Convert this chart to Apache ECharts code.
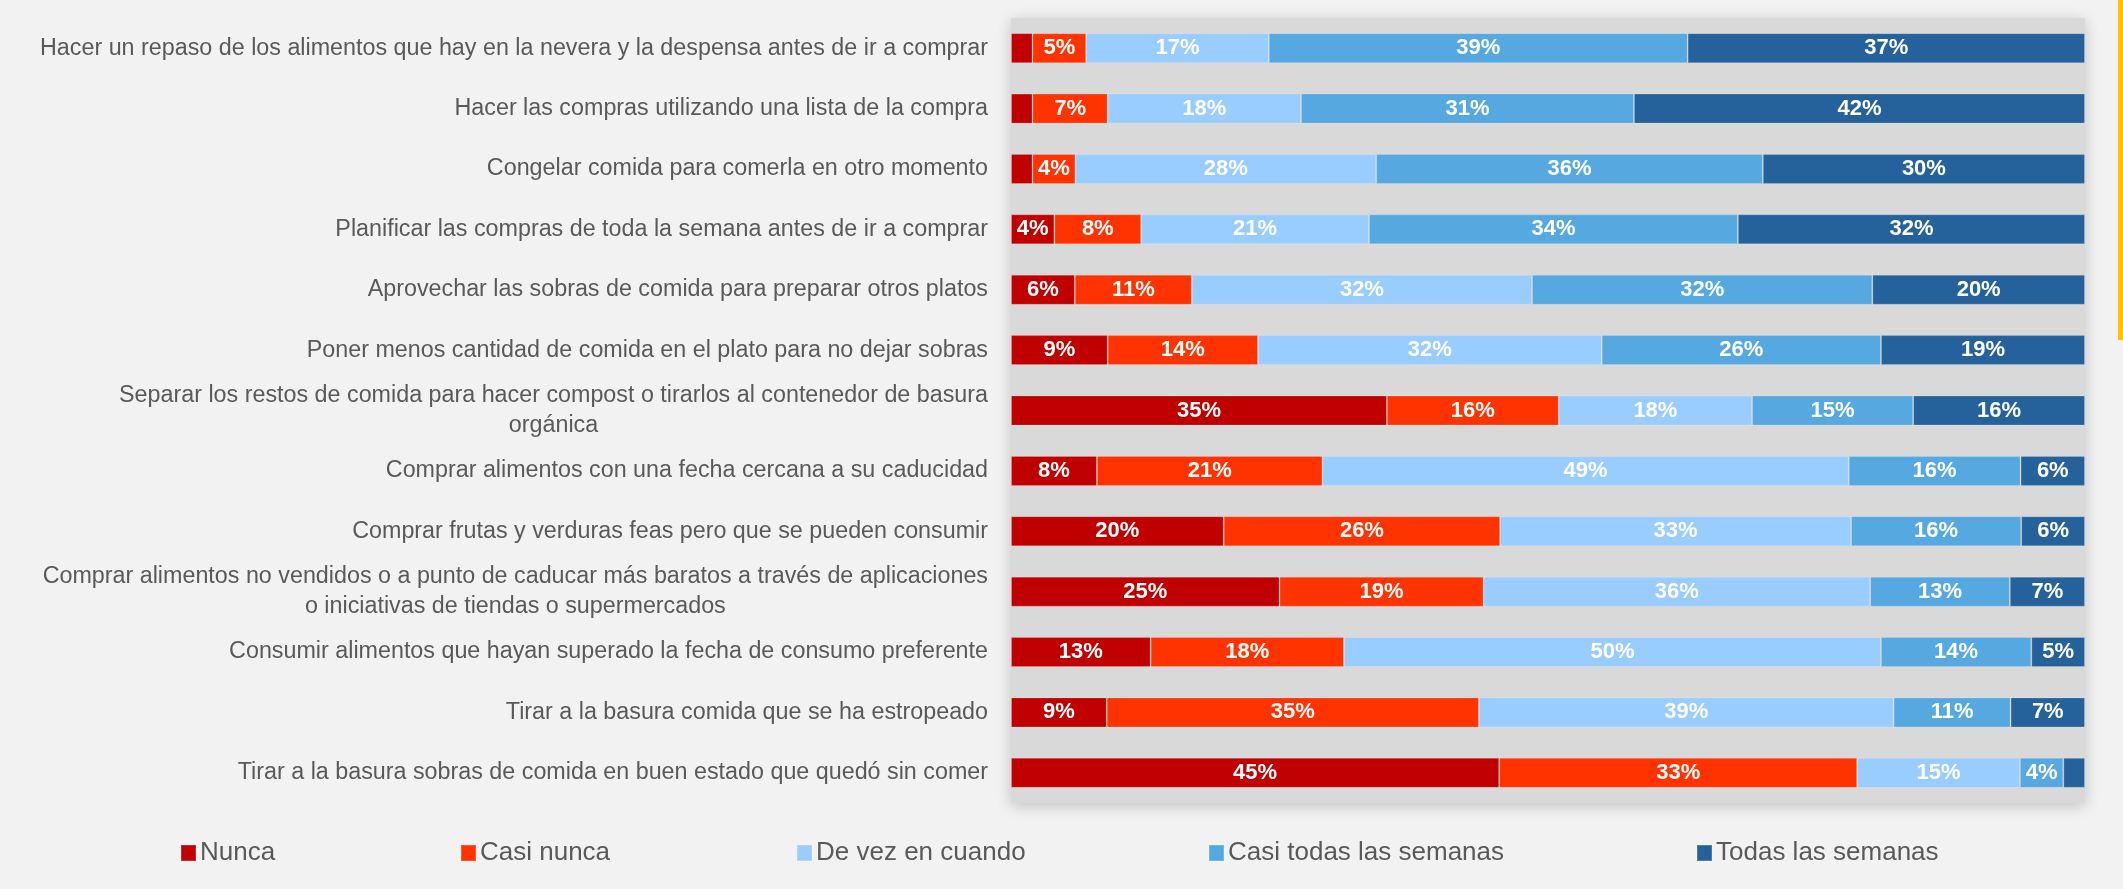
<!DOCTYPE html>
<html>
<head>
<meta charset="utf-8">
<script src="https://cdn.jsdelivr.net/npm/echarts@6/dist/echarts.min.js"></script>
<style>
html,body{margin:0;padding:0;background:#f2f2f2;}
#chart{width:2123px;height:889px;}
</style>
</head>
<body>
<div id="chart"></div>
<script>
// ---- data ----
const categories = [
  "Hacer un repaso de los alimentos que hay en la nevera y la despensa antes de ir a comprar",
  "Hacer las compras utilizando una lista de la compra",
  "Congelar comida para comerla en otro momento",
  "Planificar las compras de toda la semana antes de ir a comprar",
  "Aprovechar las sobras de comida para preparar otros platos",
  "Poner menos cantidad de comida en el plato para no dejar sobras",
  "Separar los restos de comida para hacer compost o tirarlos al contenedor de basura\norgánica",
  "Comprar alimentos con una fecha cercana a su caducidad",
  "Comprar frutas y verduras feas pero que se pueden consumir",
  "Comprar alimentos no vendidos o a punto de caducar más baratos a través de aplicaciones\no iniciativas de tiendas o supermercados",
  "Consumir alimentos que hayan superado la fecha de consumo preferente",
  "Tirar a la basura comida que se ha estropeado",
  "Tirar a la basura sobras de comida en buen estado que quedó sin comer"
];
const seriesNames = ["Nunca", "Casi nunca", "De vez en cuando", "Casi todas las semanas", "Todas las semanas"];
const nunca     = [2, 2, 2, 4, 6, 9, 35, 8, 20, 25, 13, 9, 45];
const casiNunca = [5, 7, 4, 8, 11, 14, 16, 21, 26, 19, 18, 35, 33];
const deVez     = [17, 18, 28, 21, 32, 32, 18, 49, 33, 36, 50, 39, 15];
const casiTodas = [39, 31, 36, 34, 32, 26, 15, 16, 16, 13, 14, 11, 4];
const todas     = [37, 42, 30, 32, 20, 19, 16, 6, 6, 7, 5, 7, 2];

// ---- styling ----
const colors = ["#c00000", "#ff3300", "#99ccff", "#55a8e0", "#25629b"];
const legendLeft = [180, 460, 796, 1208, 1696];
const FONT = "'Liberation Sans', Arial, sans-serif";

const allSeries = [nunca, casiNunca, deVez, casiTodas, todas];
const totals = categories.map((_, i) => allSeries.reduce((s, arr) => s + arr[i], 0));

const chart = echarts.init(document.getElementById('chart'), null, {renderer: 'canvas'});
const option = {
  backgroundColor: '#f2f2f2',
  animation: false,
  grid: {
    left: 1011, right: 38, top: 18, bottom: 86,
    show: true, backgroundColor: '#d9d9d9', borderWidth: 0,
    shadowBlur: 14, shadowColor: 'rgba(0,0,0,0.2)', shadowOffsetY: 3
  },
  xAxis: {
    type: 'value', min: 0, max: 100,
    show: false
  },
  yAxis: {
    type: 'category', inverse: true, data: categories,
    axisLine: {show: false}, axisTick: {show: false}, splitLine: {show: false},
    axisLabel: {
      margin: 23, align: 'right',
      formatter: v => v.split('\n').map(l => '{c|' + l + '}').join('\n'),
      rich: {c: {align: 'center', fontSize: 23.3, lineHeight: 30, color: '#595959', fontFamily: FONT}}
    }
  },
  legend: seriesNames.map((n, i) => ({
    data: [n], left: legendLeft[i], top: 838, padding: 0,
    itemWidth: 15, itemHeight: 16, itemGap: 0,
    icon: 'rect',
    textStyle: {fontSize: 26, lineHeight: 30, color: '#595959', fontFamily: FONT, padding: [0, 0, 0, -1]}
  })),
  series: allSeries.map((arr, si) => ({
    name: seriesNames[si],
    type: 'bar',
    stack: 'total',
    barWidth: 30,
    itemStyle: {color: colors[si], borderColor: 'rgba(255,255,255,0.18)', borderWidth: 1},
    label: {
      show: true, position: 'inside', color: '#ffffff',
      fontSize: 22, fontWeight: 'bold', fontFamily: FONT,
      formatter: p => arr[p.dataIndex] >= 3 ? arr[p.dataIndex] + '%' : ''
    },
    data: arr.map((v, i) => v / totals[i] * 100)
  })),
  graphic: [{
    type: 'rect', left: 2118, top: 0, shape: {width: 5, height: 340},
    style: {fill: '#ffc000'}, silent: true
  }]
};
chart.setOption(option);
</script>
</body>
</html>
